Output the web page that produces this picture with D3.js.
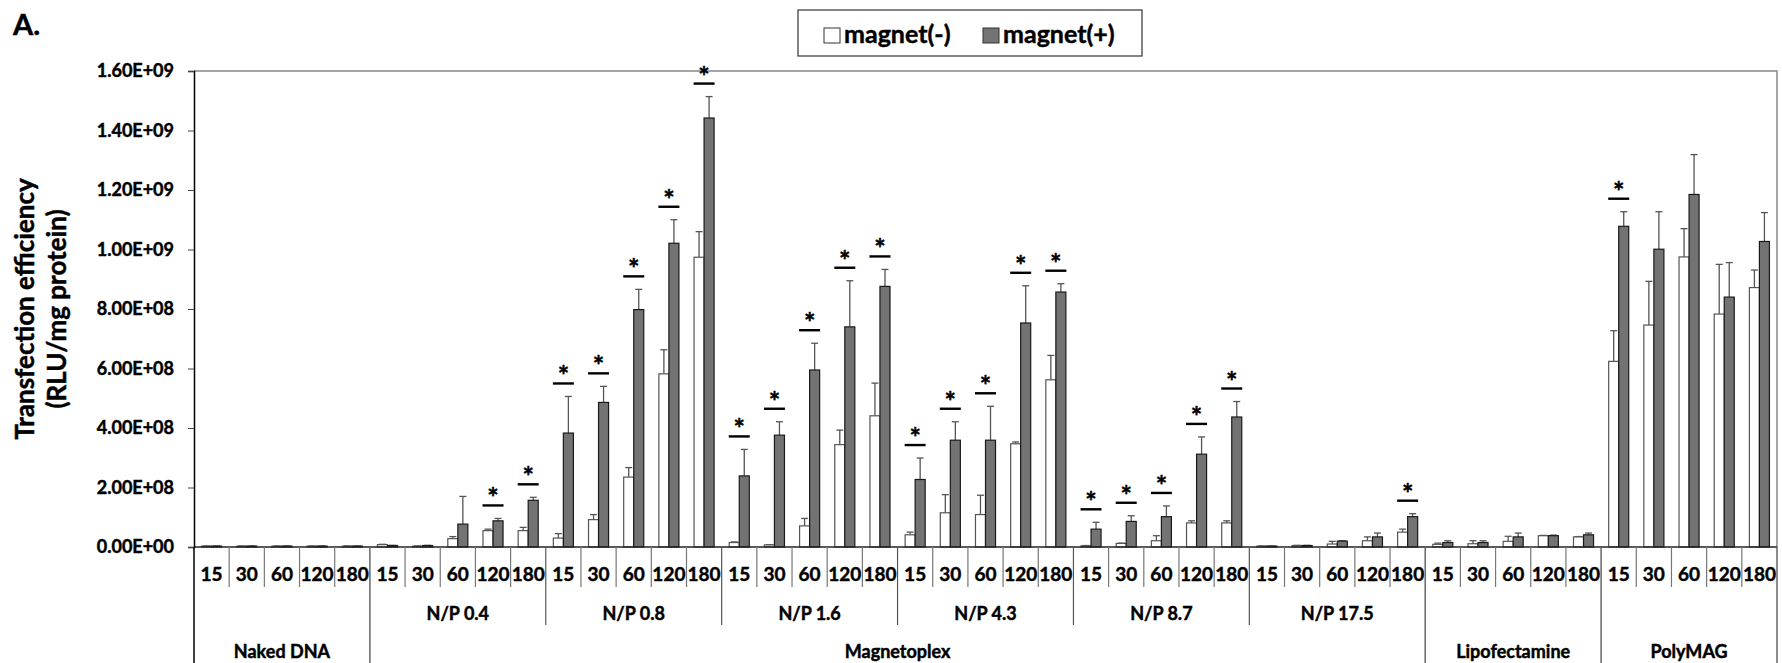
<!DOCTYPE html>
<html>
  <head>
    <meta charset="utf-8">
    <title>Transfection efficiency</title>
    <script src="https://d3js.org/d3.v7.min.js" charset="utf-8"></script>
    <style>
      html, body { margin: 0; padding: 0; background: #fff; }
      svg { display: block; font-family: Lato, "Open Sans", sans-serif; font-weight: bold; }
      svg text { fill: #000; stroke: #000; stroke-width: 0.45px; }
    </style>
  </head>
  <body>
    <div id="chart"></div>
    <script type="text/javascript">
      // data (values in RLU/mg protein)
      var groups = ["Naked DNA", "N/P 0.4", "N/P 0.8", "N/P 1.6", "N/P 4.3", "N/P 8.7", "N/P 17.5", "Lipofectamine", "PolyMAG"];
      var times = ["15", "30", "60", "120", "180"];
      // top level labels and which groups they span
      var families = [
        {name: "Naked DNA", from: 0, to: 0},
        {name: "Magnetoplex", from: 1, to: 6},
        {name: "Lipofectamine", from: 7, to: 7},
        {name: "PolyMAG", from: 8, to: 8}
      ];
      var seriesNames = ["magnet(-)", "magnet(+)"];

      var magnetMinus = [
        0.03, 0.03, 0.03, 0.03, 0.03,
        0.08, 0.03, 0.28, 0.55, 0.55,
        0.30, 0.92, 2.35, 5.82, 9.74,
        0.15, 0.07, 0.71, 3.44, 4.41,
        0.41, 1.15, 1.09, 3.47, 5.62,
        0.04, 0.12, 0.21, 0.81, 0.81,
        0.03, 0.05, 0.10, 0.21, 0.50,
        0.09, 0.11, 0.19, 0.38, 0.34,
        6.24, 7.46, 9.75, 7.83, 8.72
      ];
      var magnetMinusSd = [
        0.005, 0.005, 0.005, 0.005, 0.005,
        0.01, 0.005, 0.07, 0.05, 0.11,
        0.15, 0.17, 0.32, 0.81, 0.86,
        0.02, 0.01, 0.25, 0.49, 1.10,
        0.09, 0.61, 0.65, 0.06, 0.82,
        0.01, 0.01, 0.17, 0.07, 0.07,
        0.005, 0.005, 0.09, 0.13, 0.10,
        0.04, 0.10, 0.17, 0.01, 0.01,
        1.03, 1.47, 0.95, 1.67, 0.59
      ];
      var magnetPlus = [
        0.03, 0.03, 0.03, 0.03, 0.03,
        0.05, 0.05, 0.77, 0.88, 1.57,
        3.83, 4.86, 7.98, 10.21, 14.42,
        2.39, 3.76, 5.95, 7.40, 8.76,
        2.27, 3.59, 3.59, 7.53, 8.57,
        0.60, 0.86, 1.02, 3.12, 4.37,
        0.03, 0.05, 0.20, 0.34, 1.02,
        0.15, 0.15, 0.34, 0.38, 0.41,
        10.78, 10.01, 11.85, 8.40, 10.27
      ];
      var magnetPlusSd = [
        0.005, 0.005, 0.005, 0.005, 0.005,
        0.005, 0.005, 0.93, 0.08, 0.10,
        1.23, 0.54, 0.68, 0.79, 0.72,
        0.89, 0.45, 0.90, 1.55, 0.57,
        0.72, 0.62, 1.14, 1.25, 0.28,
        0.23, 0.19, 0.36, 0.58, 0.52,
        0.005, 0.005, 0.01, 0.13, 0.10,
        0.06, 0.06, 0.13, 0.02, 0.06,
        0.49, 1.26, 1.34, 1.16, 0.97
      ];
      // categories marked with * (group|time)
      var significant = [
        "N/P 0.4|120", "N/P 0.4|180",
        "N/P 0.8|15", "N/P 0.8|30", "N/P 0.8|60", "N/P 0.8|120", "N/P 0.8|180",
        "N/P 1.6|15", "N/P 1.6|30", "N/P 1.6|60", "N/P 1.6|120", "N/P 1.6|180",
        "N/P 4.3|15", "N/P 4.3|30", "N/P 4.3|60", "N/P 4.3|120", "N/P 4.3|180",
        "N/P 8.7|15", "N/P 8.7|30", "N/P 8.7|60", "N/P 8.7|120", "N/P 8.7|180",
        "N/P 17.5|180", "PolyMAG|15"
      ];
      var unit = 1e8;
      var yTicks = [0, 2e8, 4e8, 6e8, 8e8, 10e8, 12e8, 14e8, 16e8];

      // layout
      var width = 1782, height = 663;
      var plotLeft = 194, plotRight = 1777, plotTop = 71, plotBottom = 547;
      var barColor = ["#ffffff", "#737373"];

      var keys = [];
      groups.forEach(function(g) { times.forEach(function(t) { keys.push(g + "|" + t); }); });

      var rows = keys.map(function(k, i) {
        return {
          key: k,
          values: [
            {s: 0, v: magnetMinus[i] * unit, sd: magnetMinusSd[i] * unit},
            {s: 1, v: magnetPlus[i] * unit, sd: magnetPlusSd[i] * unit}
          ]
        };
      });

      var x = d3.scaleBand().domain(keys).range([plotLeft, plotRight]).padding(0);
      var step = x.bandwidth();
      var xs = d3.scaleBand().domain([0, 1]).range([step * 0.215, step * 0.785]).padding(0);
      var y = d3.scaleLinear().domain([0, 16e8]).range([plotBottom, plotTop]);

      function sci(d) {
        if (d === 0) return "0.00E+00";
        var e = Math.floor(Math.log10(d));
        var m = d / Math.pow(10, e);
        return m.toFixed(2) + "E+" + (e < 10 ? "0" : "") + e;
      }

      var svg = d3.select("#chart").append("svg")
        .attr("width", width)
        .attr("height", height);

      // panel letter
      svg.append("text").attr("x", 13).attr("y", 35)
        .style("font-size", "29px").text("A.");

      // plot frame (top and right)
      svg.append("path")
        .attr("d", "M" + plotLeft + "," + plotTop + "H" + plotRight + "V" + plotBottom)
        .attr("fill", "none").attr("stroke", "#888").attr("stroke-width", 1.5);

      // y axis
      var yAxis = svg.append("g")
        .attr("transform", "translate(" + plotLeft + ",0)")
        .call(d3.axisLeft(y).tickValues(yTicks).tickFormat(sci).tickSize(6).tickPadding(14));
      yAxis.select(".domain").attr("stroke", "#000").attr("stroke-width", 1.5);
      yAxis.selectAll(".tick line").attr("stroke", "#444");
      yAxis.selectAll("text")
        .style("font-size", "18px").style("font-weight", "bold")
        .style("font-family", "Lato, sans-serif");

      // y title
      var yTitle = svg.append("text")
        .attr("transform", "translate(34," + ((plotTop + plotBottom) / 2) + ") rotate(-90)")
        .attr("text-anchor", "middle")
        .style("font-size", "26px");
      yTitle.append("tspan").attr("x", 0).attr("dy", 0).text("Transfection efficiency");
      yTitle.append("tspan").attr("x", 0).attr("dy", 32).text("(RLU/mg protein)");

      // bars
      var cat = svg.append("g").selectAll("g")
        .data(rows)
        .join("g")
        .attr("transform", function(d) { return "translate(" + x(d.key) + ",0)"; });

      // error bars (upper only)
      cat.selectAll("g.err")
        .data(function(d) { return d.values; })
        .join("g")
        .attr("class", "err")
        .each(function(d) {
          var g = d3.select(this);
          var cx = xs(d.s) + xs.bandwidth() / 2;
          g.append("line")
            .attr("x1", cx).attr("x2", cx)
            .attr("y1", y(d.v)).attr("y2", y(d.v + d.sd))
            .attr("stroke", "#555").attr("stroke-width", 1.3);
          g.append("line")
            .attr("x1", cx - 3.5).attr("x2", cx + 3.5)
            .attr("y1", y(d.v + d.sd)).attr("y2", y(d.v + d.sd))
            .attr("stroke", "#555").attr("stroke-width", 1.3);
        });

      cat.selectAll("rect")
        .data(function(d) { return d.values; })
        .join("rect")
        .attr("x", function(d) { return xs(d.s); })
        .attr("width", xs.bandwidth())
        .attr("y", function(d) { return y(d.v); })
        .attr("height", function(d) { return y(0) - y(d.v); })
        .attr("fill", function(d) { return barColor[d.s]; })
        .attr("stroke", function(d) { return d.s ? "#1a1a1a" : "#555"; })
        .attr("stroke-width", 1.2);

      // significance marks
      var sig = svg.append("g").selectAll("g")
        .data(rows.filter(function(d) { return significant.indexOf(d.key) >= 0; }))
        .join("g")
        .attr("transform", function(d) {
          var top = d3.max(d.values, function(v) { return v.v + v.sd; });
          return "translate(" + (x(d.key) + step / 2) + "," + (y(top) - 13) + ")";
        });
      sig.append("line")
        .attr("x1", -10.5).attr("x2", 10.5)
        .attr("stroke", "#000").attr("stroke-width", 2.4);
      sig.append("text")
        .attr("y", 2).attr("text-anchor", "middle")
        .style("font-size", "27px").text("*");

      // x axis baseline
      svg.append("line")
        .attr("x1", plotLeft).attr("x2", plotRight)
        .attr("y1", y(0)).attr("y2", y(0))
        .attr("stroke", "#222").attr("stroke-width", 1.5);

      // category dividers and labels
      var xa = svg.append("g");
      xa.selectAll("line.cat")
        .data(keys.filter(function(k) { return k.split("|")[1] !== times[0]; }))
        .join("line")
        .attr("class", "cat")
        .attr("x1", function(k) { return x(k); }).attr("x2", function(k) { return x(k); })
        .attr("y1", plotBottom).attr("y2", 587)
        .attr("stroke", "#777").attr("stroke-width", 1.2);
      xa.selectAll("text.time")
        .data(keys)
        .join("text")
        .attr("class", "time")
        .attr("x", function(k) { return x(k) + step / 2; })
        .attr("y", 581)
        .attr("text-anchor", "middle")
        .style("font-size", "19px")
        .text(function(k) { return k.split("|")[1]; });

      // group level (N/P ...)
      function groupStart(i) { return x(groups[i] + "|" + times[0]); }
      function groupEnd(i) { return x(groups[i] + "|" + times[times.length - 1]) + step; }
      var npGroups = d3.range(1, 7);
      xa.selectAll("text.grp")
        .data(npGroups)
        .join("text")
        .attr("class", "grp")
        .attr("x", function(i) { return (groupStart(i) + groupEnd(i)) / 2; })
        .attr("y", 620)
        .attr("text-anchor", "middle")
        .style("font-size", "18px")
        .text(function(i) { return groups[i]; });
      xa.selectAll("line.grp")
        .data(d3.range(2, 7))
        .join("line")
        .attr("class", "grp")
        .attr("x1", groupStart).attr("x2", groupStart)
        .attr("y1", plotBottom).attr("y2", 625)
        .attr("stroke", "#555").attr("stroke-width", 1.2);

      // family level
      xa.selectAll("text.fam")
        .data(families)
        .join("text")
        .attr("class", "fam")
        .attr("x", function(f) { return (groupStart(f.from) + groupEnd(f.to)) / 2; })
        .attr("y", 658)
        .attr("text-anchor", "middle")
        .style("font-size", "18px")
        .text(function(f) { return f.name; });
      var famEdges = families.map(function(f) { return groupStart(f.from); }).concat([plotRight]);
      xa.selectAll("line.fam")
        .data(famEdges)
        .join("line")
        .attr("class", "fam")
        .attr("x1", function(d) { return d; }).attr("x2", function(d) { return d; })
        .attr("y1", plotBottom).attr("y2", height)
        .attr("stroke", function(d, i) { return i === 0 ? "#000" : "#666"; })
        .attr("stroke-width", 1.5);

      // legend
      var legend = svg.append("g").attr("transform", "translate(798,10)");
      legend.append("rect")
        .attr("width", 344).attr("height", 46)
        .attr("fill", "#fff").attr("stroke", "#333").attr("stroke-width", 1.2);
      var li = legend.selectAll("g.item")
        .data(seriesNames)
        .join("g")
        .attr("class", "item")
        .attr("transform", function(d, i) { return "translate(" + (26 + i * 159) + ",18)"; });
      li.append("rect")
        .attr("width", 16).attr("height", 15)
        .attr("fill", function(d, i) { return barColor[i]; })
        .attr("stroke", "#333").attr("stroke-width", 1);
      li.append("text")
        .attr("x", 20).attr("y", 15)
        .style("font-size", "25px")
        .text(function(d) { return d; });
    </script>
  </body>
</html>
